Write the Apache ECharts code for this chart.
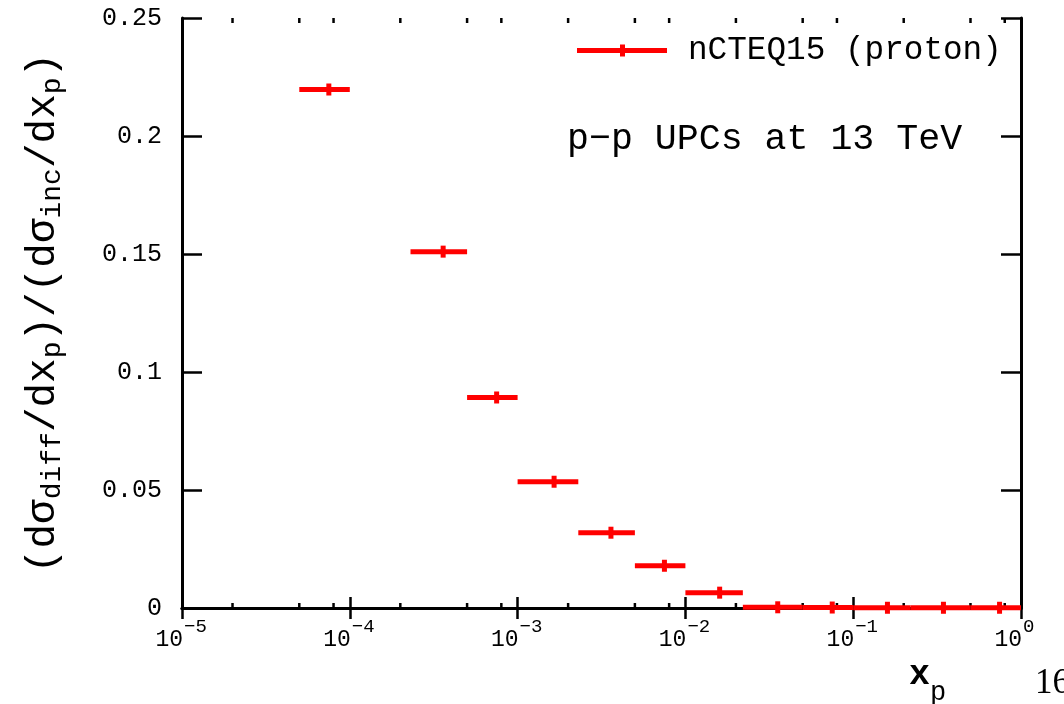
<!DOCTYPE html>
<html>
<head>
<meta charset="utf-8">
<script src="https://cdn.jsdelivr.net/npm/echarts@6/dist/echarts.min.js"></script>
<style>
  html, body { margin: 0; padding: 0; background: #fff; }
  #chart { width: 1064px; height: 704px; }
</style>
</head>
<body>
<div id="chart"></div>
<script>
// Fraction of diffractive photoproduction, p-p UPCs at 13 TeV, binned in x_p
const seriesName = 'nCTEQ15 (proton)';
const binLow  = [5e-5, 2.3e-4, 5e-4, 1e-3, 2.3e-3, 5e-3, 1e-2, 2.2e-2, 5e-2, 0.1, 0.22, 0.5];
const binHigh = [1e-4, 5e-4, 1e-3, 2.3e-3, 5e-3, 1e-2, 2.2e-2, 5e-2, 0.1, 0.22, 0.5, 1];
const binCenter = [7.5e-5, 3.6e-4, 7.5e-4, 1.65e-3, 3.6e-3, 7.5e-3, 1.6e-2, 3.55e-2, 7.5e-2, 0.16, 0.345, 0.745];
const ratio = [0.2197, 0.1510, 0.0892, 0.0535, 0.0319, 0.0179, 0.0065, 0.0003, 0.0002, 0.0001, 0.0001, 0.0001];

// axis ranges, tick positions and decade labels
const xMin = 1e-5, xMax = 1;
const yMin = 0, yMax = 0.25, yStep = 0.05;
const xMajorTicks = [1e-5, 1e-4, 1e-3, 1e-2, 1e-1, 1];
const xTickExponents = ['\u22125', '\u22124', '\u22123', '\u22122', '\u22121', '0'];
const xMinorTicks = [
  2e-5, 5e-5, 8e-5, 2e-4, 5e-4, 8e-4, 2e-3, 5e-3, 8e-3,
  2e-2, 5e-2, 8e-2, 2e-1, 5e-1, 8e-1
];

const FONT = 'Liberation Mono';
const RED = '#ff0000';

const points = binLow.map((lo, i) => [lo, binHigh[i], binCenter[i], ratio[i]]);

const chart = echarts.init(document.getElementById('chart'), null, { renderer: 'canvas' });

const option = {
  animation: false,
  backgroundColor: '#ffffff',
  textStyle: { fontFamily: FONT, color: '#000' },
  grid: { left: 182, right: 43, top: 18, bottom: 96, outerBoundsMode: 'none' },
  title: {
    text: 'p\u2212p UPCs at 13 TeV',
    left: 567, top: 121, padding: 0,
    textStyle: { fontFamily: FONT, fontSize: 36.6, fontWeight: 'normal', color: '#000', lineHeight: 36 }
  },
  legend: {
    data: [seriesName],
    left: 577, top: 34, padding: 0,
    itemWidth: 90, itemHeight: 12,
    icon: 'path://M0,3.5H90V8.5H0Z M43,0H48V12H43Z',
    selectedMode: false,
    textStyle: { fontFamily: FONT, fontSize: 32.7, color: '#000', padding: [0, 0, 0, 16], lineHeight: 32 }
  },
  xAxis: [
    {
      type: 'log', logBase: 10, min: xMin, max: xMax,
      position: 'bottom',
      axisLine: { lineStyle: { color: '#000', width: 3 } },
      axisTick: { inside: true, length: 11, lineStyle: { color: '#000', width: 2.5 } },
      axisLabel: { show: false },
      splitLine: { show: false }
    },
    {
      type: 'log', logBase: 10, min: xMin, max: xMax,
      position: 'top',
      axisLine: { lineStyle: { color: '#000', width: 3 } },
      axisTick: { inside: true, length: 11, lineStyle: { color: '#000', width: 2.5 } },
      axisLabel: { show: false },
      splitLine: { show: false }
    }
  ],
  yAxis: [
    {
      type: 'value', min: yMin, max: yMax, interval: yStep,
      position: 'left',
      name: '{m|(d\u03c3}{s|diff}{m|/dx}{s|p}{m|)/(d\u03c3}{s|inc}{m|/dx}{s|p}{m|)}',
      nameLocation: 'middle', nameGap: 119, nameRotate: 90, nameMoveOverlap: false,
      nameTextStyle: {
        rich: {
          m: { fontFamily: FONT, fontSize: 41, lineHeight: 40, color: '#000' },
          s: { fontFamily: FONT, fontSize: 28, lineHeight: 26, padding: [20, 0, 0, 0], color: '#000' }
        }
      },
      axisLine: { show: true, lineStyle: { color: '#000', width: 3 } },
      axisTick: { show: true, inside: true, length: 20, lineStyle: { color: '#000', width: 2.5 } },
      axisLabel: { margin: 20, fontFamily: FONT, fontSize: 25, color: '#000' },
      splitLine: { show: false }
    },
    {
      type: 'value', min: yMin, max: yMax, interval: yStep,
      position: 'right',
      axisLine: { show: true, lineStyle: { color: '#000', width: 3 } },
      axisTick: { show: true, inside: true, length: 20, lineStyle: { color: '#000', width: 2.5 } },
      axisLabel: { show: false },
      splitLine: { show: false }
    }
  ],
  graphic: [
    {
      type: 'text', left: 909, top: 645, silent: true,
      style: {
        text: '{x|x}{p|p}',
        rich: {
          x: { fontFamily: FONT, fontSize: 35, lineHeight: 34, fontWeight: 'bold', fill: '#000' },
          p: { fontFamily: FONT, fontSize: 27, lineHeight: 26, padding: [34, 0, 0, 0], fill: '#000' }
        }
      }
    },
    {
      type: 'text', x: 1035, y: 684, silent: true,
      style: { text: '16', fontFamily: 'Liberation Serif', fontSize: 35, fill: '#000', verticalAlign: 'middle' }
    }
  ],
  series: [
    {
      // minor ticks on the bottom and top frame edges
      type: 'custom', name: 'minor ticks', silent: true, clip: false,
      xAxisIndex: 0, yAxisIndex: 0, z: 3,
      data: xMinorTicks.map(v => [v]),
      encode: { x: 0 },
      renderItem(params, api) {
        const b = api.coord([api.value(0), yMin]);
        const t = api.coord([api.value(0), yMax]);
        const st = { stroke: '#000', lineWidth: 2.5 };
        return {
          type: 'group',
          children: [
            { type: 'line', shape: { x1: b[0], y1: b[1], x2: b[0], y2: b[1] - 5 }, style: st },
            { type: 'line', shape: { x1: t[0], y1: t[1], x2: t[0], y2: t[1] + 5 }, style: st }
          ]
        };
      }
    },
    {
      // decade labels 10^n under the bottom axis
      type: 'custom', name: 'decade labels', silent: true, clip: false,
      xAxisIndex: 0, yAxisIndex: 0, z: 3,
      data: xMajorTicks.map(v => [v]),
      encode: { x: 0 },
      renderItem(params, api) {
        const p = api.coord([api.value(0), yMin]);
        return {
          type: 'group',
          children: [
            { type: 'text', x: p[0] + 1, y: p[1] + 32,
              style: { text: '10', fontFamily: FONT, fontSize: 23, fill: '#000', align: 'right', verticalAlign: 'middle' } },
            { type: 'text', x: p[0] + 2, y: p[1] + 19,
              style: { text: xTickExponents[params.dataIndex], fontFamily: FONT, fontSize: 19, fill: '#000', align: 'left', verticalAlign: 'middle' } }
          ]
        };
      }
    },
    {
      type: 'custom', name: seriesName, clip: false,
      xAxisIndex: 0, yAxisIndex: 0, z: 5,
      itemStyle: { color: RED },
      data: points,
      encode: { x: [0, 1, 2], y: 3 },
      renderItem(params, api) {
        const y = api.value(3);
        const lo = api.coord([api.value(0), y]);
        const hi = api.coord([api.value(1), y]);
        const c = api.coord([api.value(2), y]);
        return {
          type: 'group',
          children: [
            { type: 'rect', shape: { x: lo[0], y: lo[1] - 2.5, width: hi[0] - lo[0], height: 5 }, style: { fill: RED } },
            { type: 'rect', shape: { x: c[0] - 2.5, y: c[1] - 6, width: 5, height: 12 }, style: { fill: RED } }
          ]
        };
      }
    }
  ]
};

chart.setOption(option);
</script>
</body>
</html>
